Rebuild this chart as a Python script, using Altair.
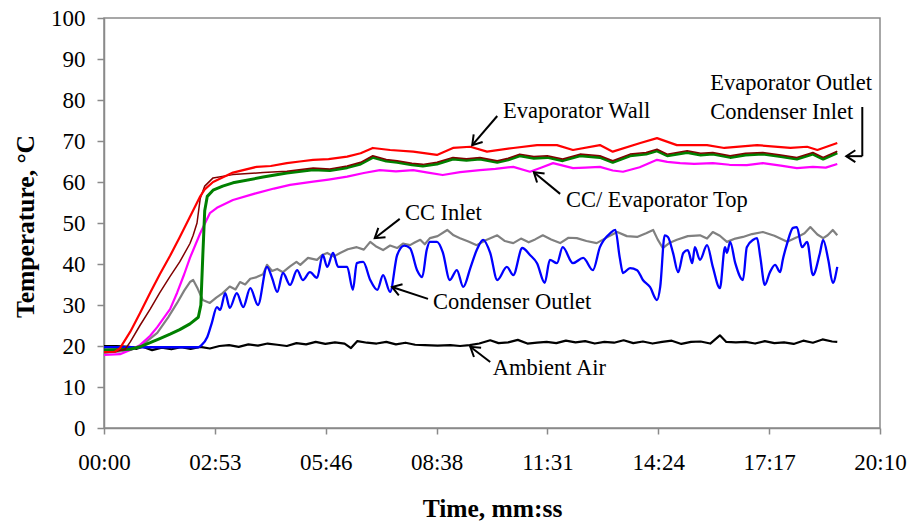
import math
import altair as alt
import pandas as pd

# ---------------- data (time in seconds, temperature in °C) ----------------
red_t = [0, 17, 25, 41, 56, 72, 87, 103, 118, 134, 150, 157, 170, 201, 238, 260, 285, 305, 326, 350,
         379, 400, 419, 446, 482, 519, 544, 571, 597, 638, 675, 706, 731, 773, 793, 836, 862, 893,
         940, 967, 1018, 1070, 1096, 1112, 1143]
red_v = [18.5, 18.6, 19.5, 23.5, 28, 33, 37.5, 42, 46.5, 51.5, 56.5, 58.2, 60, 62.3, 63.7, 63.9, 64.6, 65.0,
         65.4, 65.6, 66.2, 67.0, 68.3, 67.8, 67.4, 66.6, 68.3, 68.6, 67.4, 68.3, 69, 69, 67.8, 69, 67.4,
         69.5, 70.7, 69, 69, 68.3, 69, 68.3, 68.6, 67.8, 69.5]

evo_t = [0, 17, 33, 41, 56, 72, 87, 103, 118, 134, 139, 145, 150, 157, 170, 201, 248, 285,
         326, 352, 379, 400, 419, 440, 457, 480, 497, 519, 544, 565, 586, 613, 630, 648, 670, 691,
         715, 742, 773, 793, 820, 845, 862, 878, 909, 930, 949, 976, 1000, 1027, 1055, 1080, 1105,
         1121, 1143]
evo_v = [18.6, 18.6, 19.2, 21, 25, 29, 33, 37, 40.5, 45, 47, 50, 56, 59, 61, 61.8, 62.3, 62.6,
         63.4, 63.2, 63.9, 64.8, 66.4, 65.5, 65.2, 64.6, 64.3, 64.8, 66.0, 65.7, 66.0, 65.2, 65.8,
         66.8, 66.2, 66.4, 65.6, 66.8, 66.4, 65.2, 66.8, 67.2, 68.0, 66.8, 67.6, 67.0, 67.2, 66.4,
         67.0, 67.2, 66.6, 66.0, 67.2, 66.0, 67.5]

cin_t = [0, 41, 56, 72, 87, 103, 118, 134, 147, 151, 154, 157, 161, 170, 185, 201, 248, 285,
         326, 352, 379, 400, 419, 440, 457, 480, 497, 519, 544, 565, 586, 613, 630, 648, 670, 691,
         715, 742, 773, 793, 820, 845, 862, 878, 909, 930, 949, 976, 1000, 1027, 1055, 1080, 1105,
         1121, 1143]
cin_v = [19, 19.2, 19.8, 20.8, 21.8, 22.9, 24, 25.4, 27, 30, 42, 53, 56.5, 58, 59, 59.8, 61.2, 62.2,
         63.0, 62.8, 63.5, 64.4, 66.0, 65.1, 64.8, 64.2, 63.9, 64.4, 65.6, 65.3, 65.6, 64.8, 65.4,
         66.4, 65.8, 66.0, 65.2, 66.4, 66.0, 64.8, 66.4, 66.8, 67.6, 66.4, 67.2, 66.6, 66.8, 66.0,
         66.6, 66.8, 66.2, 65.6, 66.8, 65.6, 67.1]

top_t = [0, 25, 41, 56, 72, 83, 103, 114, 125, 134, 150, 165, 176, 201, 238, 265, 290, 326, 350, 379,
         405, 430, 455, 482, 505, 528, 555, 586, 610, 638, 664, 680, 700, 731, 750, 773, 793, 809,
         835, 862, 878, 898, 920, 949, 975, 1002, 1027, 1055, 1080, 1105, 1125, 1143]
top_v = [17.8, 18, 19, 20.2, 22.5, 24.6, 29, 33, 37.5, 41.5, 47.5, 52.4, 53.7, 55.6, 57.3, 58.4, 59.3,
         60.1, 60.6, 61.3, 62.2, 62.9, 62.6, 62.9, 62.3, 61.7, 62.4, 62.9, 63.2, 63.7, 62.5, 63.4,
         64.6, 63.4, 63.5, 63.7, 62.8, 62.5, 63.6, 65.4, 64.9, 64.6, 64.4, 64.6, 64.2, 64.1, 64.6,
         64.0, 63.4, 63.7, 63.5, 64.4]

ccin_t = [0, 33, 56, 83, 100, 114, 125, 134, 139, 146, 154, 165, 175, 185, 196, 205, 212, 220, 228,
          238, 248, 254, 262, 270, 279, 290, 300, 306, 318, 332, 340, 348, 358, 368, 380, 394, 405,
          415, 425, 435, 446, 457, 466, 477, 485, 493, 500, 508, 520, 535, 545, 555, 568, 581, 595,
          613, 625, 638, 650, 662, 672, 684, 697, 711, 724, 737, 752, 768, 784, 800, 815, 831, 845,
          856, 863, 871, 882, 893, 910, 929, 940, 949, 960, 971, 984, 996, 1010, 1027, 1045, 1065,
          1080, 1092, 1101, 1112, 1121, 1128, 1136, 1143]
ccin_v = [18.3, 18.8, 19.8, 23.2, 27, 30.5, 33.5, 35.6, 36.1, 34, 31.2, 30.5, 31.8, 32.9, 34.5, 33.8,
          35.6, 35.0, 36.4, 36.8, 37.5, 39.8, 38.3, 38.8, 38.0, 39.4, 40.5, 39.8, 41.5, 41.0, 42.2,
          42.7, 41.8, 42.7, 43.6, 44.1, 43.5, 45.4, 44.2, 43.4, 44.5, 43.9, 45.0, 44.6, 45.3, 45.9,
          44.8, 46.3, 46.8, 48.3, 47.0, 46.3, 45.5, 44.6, 45.8, 47.0, 45.6, 45.1, 46.2, 45.3, 46.0,
          47.0, 46.0, 45.1, 46.4, 46.3, 45.6, 45.1, 46.5, 47.8, 46.8, 46.6, 47.5, 48.3, 46.0, 43.9,
          45.2, 45.9, 46.8, 47.0, 46.2, 47.8, 46.9, 45.4, 46.2, 46.6, 47.3, 47.8, 46.9, 45.4, 46.5,
          47.5, 49.0, 47.2, 46.3, 47.0, 48.3, 47.0]

cout_t = [0, 100, 147, 152, 161, 168, 176, 181, 189, 196, 207, 217, 228, 240, 254, 262, 270, 279,
          290, 301, 310, 321, 332, 341, 348, 357, 365, 379, 388, 394, 404, 415, 426, 435, 446, 457,
          468, 477, 488, 496, 503, 508, 519, 528, 539, 550, 560, 571, 581, 591, 602, 613, 628, 638,
          652, 664, 675, 687, 695, 706, 715, 731, 747, 762, 773, 789, 797, 804, 809, 820, 831, 840,
          851, 862, 867, 874, 879, 887, 895, 903, 910, 917, 921, 929, 940, 949, 960, 968, 971, 976,
          984, 996, 1002, 1012, 1018, 1023, 1030, 1038, 1046, 1054, 1058, 1065, 1074, 1080, 1088,
          1096, 1105, 1116, 1121, 1129, 1136, 1143]
cout_v = [19.7, 19.7, 19.7, 20.2, 22.2, 25.6, 29.5, 28.8, 32.9, 29.3, 32.9, 29.5, 34.1, 30, 39.3,
          36.6, 33.2, 37.8, 34.9, 38.5, 36.1, 38, 36.6, 42.2, 39.3, 42.7, 39.3, 39.3, 33.7, 40.2,
          40.5, 36.1, 33.7, 37.3, 33.2, 42.2, 44.5, 43.9, 38.5, 36.8, 43.4, 45.4, 45.4, 42.9, 36.1,
          38.5, 34.4, 39, 43.4, 45.9, 42.7, 36.1, 39.3, 37.3, 43.9, 42.2, 40.2, 35.4, 41, 40.2, 44.1,
          40.2, 41.5, 38.5, 44.1, 47.5, 48.3, 41.5, 37.8, 39, 38.5, 36.1, 34.4, 31.2, 34.4, 47, 46.6,
          42.7, 38, 42.7, 43.4, 40.2, 44.1, 41, 44.6, 39.3, 34.1, 44.1, 42.7, 45.4, 40.2, 36.1, 44.1,
          45.9, 46.3, 41.7, 34.9, 38, 39.8, 38, 41, 45.1, 48.8, 49, 44.1, 45.4, 37.3, 42.7, 45.9, 41,
          35.4, 39.3]

amb_t = [0, 20, 40, 50, 60, 75, 90, 105, 120, 135, 150, 165, 180, 195, 210, 225, 240, 255, 270, 285,
         300, 315, 330, 345, 360, 375, 385, 395, 410, 425, 440, 455, 470, 485, 500, 520, 540, 555, 570,
         585, 602, 615, 630, 645, 660, 675, 690, 705, 720, 735, 750, 765, 780, 795, 810, 825, 840, 855,
         870, 885, 900, 915, 930, 945, 960, 970, 985, 1000, 1015, 1030, 1045, 1060, 1075, 1090, 1105,
         1120, 1135, 1143]
amb_v = [20, 20, 19.8, 19.3, 19.8, 19.0, 19.6, 19.2, 19.7, 19.3, 19.8, 19.4, 20.0, 20.2, 19.8, 20.4,
         20.1, 20.6, 20.3, 20.0, 20.7, 20.4, 21.0, 20.5, 20.9, 20.6, 19.5, 21.2, 20.8, 20.6, 21.0, 20.4,
         20.8, 20.3, 20.2, 20.1, 20.2, 20.0, 20.2, 20.6, 21.4, 20.7, 20.9, 21.5, 20.6, 20.8, 21.0, 20.7,
         21.3, 20.9, 21.2, 20.6, 21.0, 20.8, 21.4, 20.7, 21.1, 20.6, 21.0, 21.3, 20.5, 21.0, 21.1, 20.6,
         22.6, 21.0, 20.9, 21.0, 20.6, 21.2, 20.7, 20.9, 20.5, 21.3, 20.8, 21.6, 21.1, 21.0]

x_ticks = [0, 172.8, 345.6, 518.4, 691.2, 864.0, 1036.8, 1209.6]

# annotations (label, time, temperature)
ann_label = ["Evaporator Wall", "Evaporator Outlet", "Condenser Inlet", "CC/ Evaporator Top",
             "CC Inlet", "Condenser Outlet", "Ambient Air"]
ann_t = [622, 945, 945, 720, 469, 513, 606]
ann_v = [77.3, 84.1, 77.1, 55.6, 52.4, 30.7, 14.6]

# arrows: from (t, v) to (t2, v2); head=1 marks a segment that ends in an arrowhead
arr_t = [613, 1182, 1182, 711, 461, 505, 602]
arr_v = [76.1, 78.3, 66.3, 57.1, 51.0, 31.5, 16.1]
arr_t2 = [574, 1182, 1157, 670, 422, 449, 571]
arr_v2 = [69.0, 66.3, 66.3, 62.4, 46.3, 34.4, 19.8]
arr_head = [1, 0, 1, 1, 1, 1, 1]

# ---------------- chart ----------------
W, H = 776, 410
XMAX = 1209.6
px_s = W / XMAX
px_v = H / 100.0
SERIF = "Liberation Serif"

x_axis = alt.Axis(values=x_ticks, title="Time, mm:ss",
                  labelExpr="format(floor(round(datum.value)/60),'02d') + ':' + format(round(datum.value)%60,'02d')",
                  labelFlush=False, labelOverlap=False, tickSize=6, labelPadding=17,
                  titleY=80, titleBaseline="middle")
y_axis = alt.Axis(values=list(range(0, 101, 10)), title="Temperature, °C", tickSize=7,
                  labelPadding=12, titleX=-79, titleY=H / 2 + 3, titleAlign="center",
                  titleBaseline="middle", titleAngle=270)

xs = alt.Scale(domain=[0, XMAX], nice=False, zero=False)
ys = alt.Scale(domain=[0, 100], nice=False)


def X(f="t"):
    return alt.X(f + ":Q", scale=xs, axis=x_axis)


def Y(f="v"):
    return alt.Y(f + ":Q", scale=ys, axis=y_axis)


series = [
    (amb_t, amb_v, "#000000", 2.2, "linear"),
    (ccin_t, ccin_v, "#808080", 2.2, "linear"),
    (cout_t, cout_v, "#0000FF", 2.3, "monotone"),
    (top_t, top_v, "#FF00FF", 2.2, "linear"),
    (cin_t, cin_v, "#008000", 3.0, "linear"),
    (evo_t, evo_v, "#800000", 1.5, "linear"),
    (red_t, red_v, "#FF0000", 2.2, "linear"),
]

layers = []
for tt, vv, col, sw, interp in series:
    d = pd.DataFrame({"t": tt, "v": vv})
    layers.append(alt.Chart(d).mark_line(color=col, strokeWidth=sw, strokeJoin="round",
                                         interpolate=interp).encode(x=X(), y=Y()))

arr = pd.DataFrame({"t": arr_t, "v": arr_v, "t2": arr_t2, "v2": arr_v2, "head": arr_head})
layers.append(alt.Chart(arr).mark_rule(color="black", strokeWidth=2).encode(
    x=X(), y=Y(), x2="t2:Q", y2="v2:Q"))

heads = arr[arr["head"] == 1].copy()
heads["ang"] = [
    math.degrees(math.atan2(-(r.v2 - r.v) * px_v, (r.t2 - r.t) * px_s)) % 360
    for r in heads.itertuples()
]
layers.append(alt.Chart(heads).mark_point(
    shape="M -1 -0.65 L 0 0 L -1 0.65", size=330, filled=False, stroke="black", strokeWidth=2,
    strokeJoin="miter", opacity=1).encode(
    x=X("t2"), y=Y("v2"), angle=alt.Angle("ang:Q", scale=None)))

ann = pd.DataFrame({"label": ann_label, "t": ann_t, "v": ann_v})
layers.append(alt.Chart(ann).mark_text(align="left", baseline="middle", font=SERIF,
                                       fontSize=22.5, color="black").encode(
    x=X(), y=Y(), text="label:N"))

chart = alt.layer(*layers).properties(
    width=W, height=H,
    padding={"left": 104, "top": 18, "right": 32, "bottom": 97},
    autosize=alt.AutoSizeParams(type="none"),
    background="white",
).configure_view(stroke="#8a8a8a", strokeWidth=1.5).configure_axis(
    domainColor="#8a8a8a", domainWidth=1.5, tickColor="#8a8a8a", tickWidth=1.5, grid=False,
    labelFont=SERIF, labelFontSize=23, labelColor="black",
    titleFont=SERIF, titleFontSize=25.5, titleFontWeight="bold", titleColor="black",
)

chart.save("out.html", embed_options={"renderer": "svg", "actions": False})
